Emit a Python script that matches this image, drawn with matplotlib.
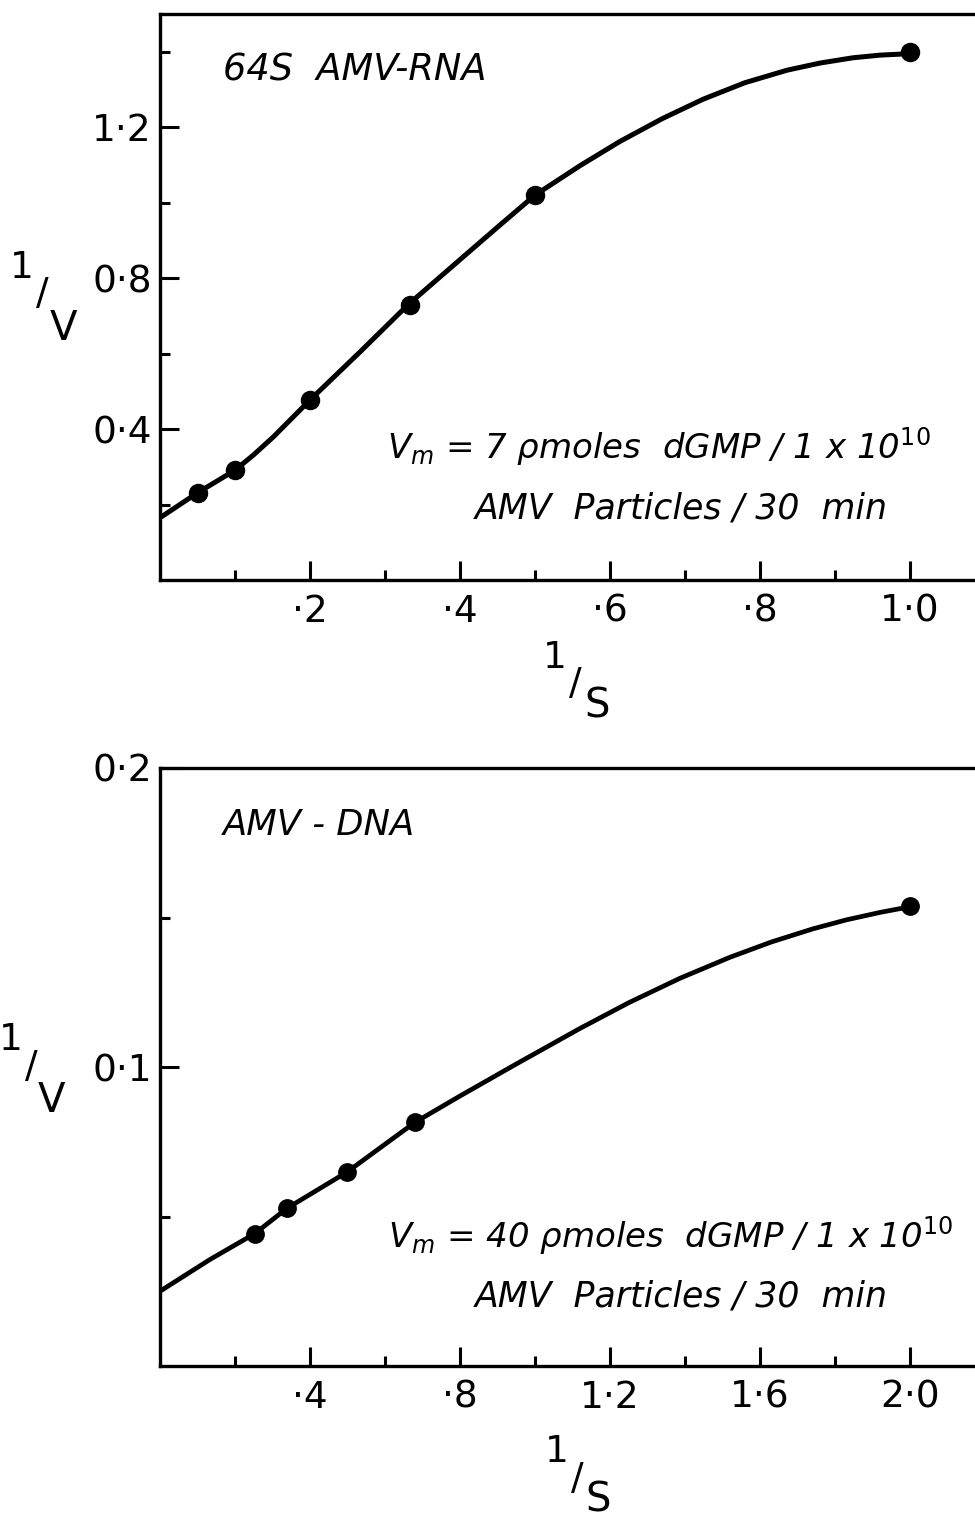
import matplotlib
matplotlib.use("Agg")
import matplotlib.pyplot as plt

plt.rcParams['font.family'] = ['DejaVu Sans']
plt.rcParams['mathtext.fontset'] = 'dejavusans'

# ---- top panel: 64S AMV-RNA ----
rna_x = [0.05, 0.10, 0.20, 0.333, 0.50, 1.00]
rna_y = [0.231, 0.291, 0.477, 0.730, 1.020, 1.400]
# hand-drawn fitted curve
rna_curve_x = [0.0, 0.05, 0.10, 0.125, 0.151, 0.175, 0.20, 0.267, 0.331, 0.40, 0.45, 0.50,
               0.56, 0.613, 0.67, 0.724, 0.78, 0.836, 0.88, 0.924, 0.96, 0.991, 1.0]
rna_curve_y = [0.165, 0.231, 0.291, 0.332, 0.379, 0.427, 0.477, 0.605, 0.730, 0.849, 0.935, 1.020,
               1.098, 1.162, 1.223, 1.274, 1.318, 1.351, 1.370, 1.384, 1.391, 1.394, 1.394]
rna_xticks = [0.2, 0.4, 0.6, 0.8, 1.0]
rna_xlabels = ['·2', '·4', '·6', '·8', '1·0']
rna_xminor = [0.1, 0.3, 0.5, 0.7, 0.9]
rna_yticks = [0.4, 0.8, 1.2]
rna_ylabels = ['0·4', '0·8', '1·2']
rna_yminor = [0.2, 0.6, 1.0, 1.4]

# ---- bottom panel: AMV-DNA ----
dna_x = [0.253, 0.338, 0.498, 0.680, 2.00]
dna_y = [0.0443, 0.0527, 0.0648, 0.0815, 0.154]
dna_curve_x = [0.0, 0.133, 0.253, 0.338, 0.498, 0.680, 0.80, 0.95, 1.12, 1.25,
               1.387, 1.52, 1.63, 1.741, 1.83, 1.92, 2.0]
dna_curve_y = [0.0250, 0.0356, 0.0443, 0.0527, 0.0648, 0.0815, 0.0903, 0.1010, 0.1129, 0.1215,
               0.1297, 0.1367, 0.1418, 0.1462, 0.1492, 0.1517, 0.1536]
dna_xticks = [0.4, 0.8, 1.2, 1.6, 2.0]
dna_xlabels = ['·4', '·8', '1·2', '1·6', '2·0']
dna_xminor = [0.2, 0.6, 1.0, 1.4, 1.8]
dna_yticks = [0.1, 0.2]
dna_ylabels = ['0·1', '0·2']
dna_yminor = [0.05, 0.15]

W, H = 975, 1520


def px(x, y):
    return x / W, 1 - y / H


def frac_label(p1, p2, p3, den):
    # "1 / X" written with a raised one and a lowered letter
    fig.text(*px(*p1), '1', fontsize=27, ha='center', va='center')
    fig.text(*px(*p2), '/', fontsize=27, ha='center', va='center')
    fig.text(*px(*p3), den, fontsize=29, ha='center', va='baseline')


def style_axes(ax, xt, xl, xm, yt, yl, ym, xmax, ymax):
    ax.set_xlim(0, xmax)
    ax.set_ylim(0, ymax)
    ax.set_xticks(xt, xl)
    ax.set_xticks(xm, minor=True)
    ax.set_yticks(yt, yl)
    ax.set_yticks(ym, minor=True)
    ax.spines['right'].set_visible(False)
    for s in ['left', 'bottom', 'top']:
        ax.spines[s].set_linewidth(2.4)
    ax.tick_params(which='both', direction='in', width=2.2, color='black')
    ax.tick_params(which='major', length=14, labelsize=27)
    ax.tick_params(which='minor', length=7)
    ax.tick_params(axis='x', pad=10)
    ax.tick_params(axis='y', pad=6)


fig = plt.figure(figsize=(W / 100, H / 100), dpi=100)

ax1 = fig.add_axes([160 / W, 1 - 580 / H, 815 / W, 566 / H])
ax1.plot(rna_curve_x, rna_curve_y, color='black', lw=3.6, solid_joinstyle='round',
         solid_capstyle='round')
ax1.plot(rna_x, rna_y, 'o', color='black', ms=13)
style_axes(ax1, rna_xticks, rna_xlabels, rna_xminor, rna_yticks, rna_ylabels, rna_yminor,
           815 / 750, 1.5)

ax2 = fig.add_axes([160 / W, 1 - 1366 / H, 815 / W, 598 / H])
ax2.plot(dna_curve_x, dna_curve_y, color='black', lw=3.4, solid_joinstyle='round',
         solid_capstyle='round')
ax2.plot(dna_x, dna_y, 'o', color='black', ms=12.5)
style_axes(ax2, dna_xticks, dna_xlabels, dna_xminor, dna_yticks, dna_ylabels, dna_yminor,
           815 / 375, 0.2)

# axis labels
frac_label((22, 268), (42, 294), (63, 340), 'V')
frac_label((555, 658), (575, 684), (597, 718), 'S')
frac_label((11, 1040), (31, 1067), (51, 1112), 'V')
frac_label((557, 1452), (577, 1479), (598, 1511), 'S')

# annotations
fig.text(*px(223, 70), '64S  AMV-RNA', fontsize=26.5, style='italic', va='center')
fig.text(*px(387, 447), r'$V_m$ = 7 ρmoles  dGMP / 1 x 10$^{10}$', fontsize=24.5,
         style='italic', va='center')
fig.text(*px(475, 509), 'AMV  Particles / 30  min', fontsize=25, style='italic', va='center')

fig.text(*px(223, 825), 'AMV - DNA', fontsize=25.5, style='italic', va='center')
fig.text(*px(388, 1236), r'$V_m$ = 40 ρmoles  dGMP / 1 x 10$^{10}$', fontsize=24.5,
         style='italic', va='center')
fig.text(*px(475, 1296), 'AMV  Particles / 30  min', fontsize=25, style='italic', va='center')

fig.savefig('out.png', dpi=100)
